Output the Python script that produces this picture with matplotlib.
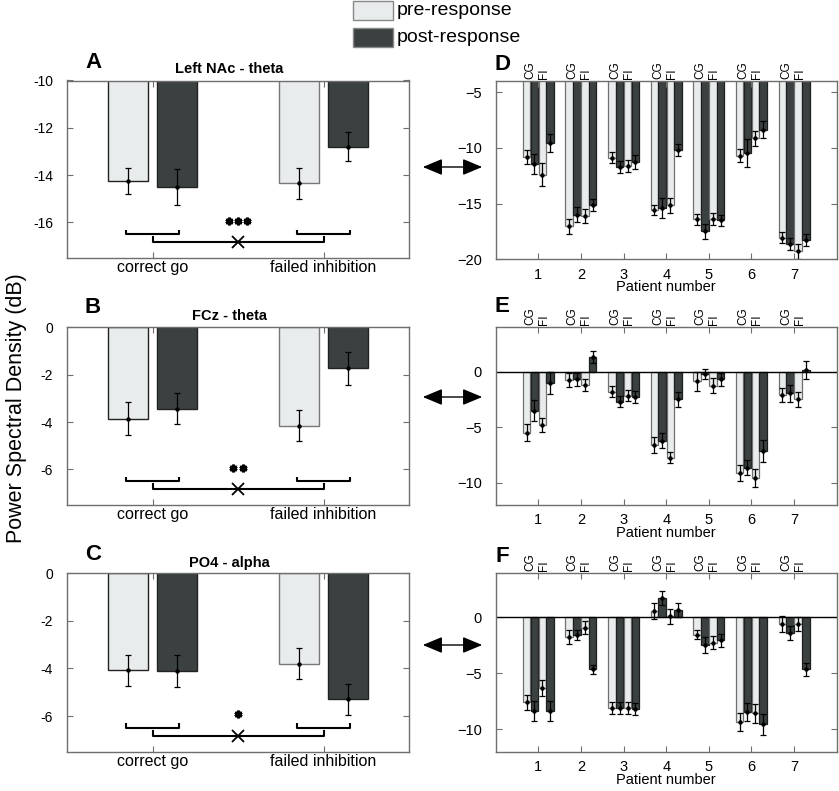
import matplotlib
matplotlib.use('Agg')
import matplotlib.pyplot as plt
import matplotlib.transforms as mtransforms
import numpy as np
from matplotlib.patches import Rectangle, FancyArrowPatch

plt.rcParams['font.family'] = ['Liberation Sans', 'DejaVu Sans']

# ---------------- data: group panels A-C ----------------
group_labels = ['correct go', 'failed inhibition']
panel_titles = ['Left NAc - theta', 'FCz - theta', 'PO4 - alpha']
legend_labels = ['pre-response', 'post-response']

A_pre = [-14.25, -14.35]
A_pre_err = [0.55, 0.65]
A_post = [-14.5, -12.8]
A_post_err = [0.75, 0.62]

B_pre = [-3.85, -4.15]
B_pre_err = [0.7, 0.65]
B_post = [-3.43, -1.73]
B_post_err = [0.65, 0.7]

C_pre = [-4.08, -3.8]
C_pre_err = [0.66, 0.65]
C_post = [-4.12, -5.3]
C_post_err = [0.67, 0.65]

sig_stars = ['***', '**', '*']

# ---------------- data: per-patient panels D-F ----------------
patients = [1, 2, 3, 4, 5, 6, 7]
cond_labels = ['CG', 'FI']

D_cg_pre = [-10.85, -17.05, -10.9, -15.56, -16.42, -10.7, -18.06]
D_cg_pre_err = [0.63, 0.64, 0.5, 0.45, 0.52, 0.6, 0.52]
D_cg_post = [-11.44, -16.0, -11.74, -15.38, -17.5, -10.46, -18.6]
D_cg_post_err = [0.9, 0.67, 0.52, 0.9, 0.67, 1.3, 0.55]
D_fi_pre = [-12.4, -16.12, -11.65, -15.17, -16.36, -9.15, -19.29]
D_fi_pre_err = [1.0, 0.6, 0.52, 0.67, 0.55, 0.7, 0.67]
D_fi_post = [-9.56, -15.1, -11.26, -10.19, -16.5, -8.37, -18.24]
D_fi_post_err = [0.8, 0.55, 0.64, 0.5, 0.48, 0.75, 0.55]

E_cg_pre = [-5.5, -0.75, -1.8, -6.6, -0.87, -9.1, -2.1]
E_cg_pre_err = [0.78, 0.67, 0.52, 0.75, 0.87, 0.72, 0.63]
E_cg_post = [-3.5, -0.7, -2.7, -6.2, -0.24, -8.65, -1.95]
E_cg_post_err = [0.95, 0.55, 0.5, 0.7, 0.45, 0.67, 0.75]
E_fi_pre = [-4.8, -1.2, -2.16, -7.75, -1.26, -9.55, -2.5]
E_fi_pre_err = [0.6, 0.53, 0.52, 0.5, 0.67, 0.82, 0.67]
E_fi_post = [-1.05, 1.35, -2.3, -2.5, -0.7, -7.15, 0.15]
E_fi_post_err = [1.0, 0.55, 0.52, 0.67, 0.57, 0.97, 0.78]

F_cg_pre = [-7.57, -1.74, -8.1, 0.55, -1.56, -9.37, -0.6]
F_cg_pre_err = [0.67, 0.6, 0.5, 0.7, 0.4, 0.82, 0.72]
F_cg_post = [-8.4, -1.6, -8.1, 1.75, -2.5, -8.47, -1.41]
F_cg_post_err = [0.9, 0.45, 0.5, 0.62, 0.72, 0.8, 0.65]
F_fi_pre = [-6.3, -0.9, -8.1, 0.1, -2.25, -8.56, -0.6]
F_fi_pre_err = [0.75, 0.54, 0.5, 0.67, 0.6, 0.84, 0.63]
F_fi_post = [-8.35, -4.65, -8.2, 0.66, -2.04, -9.55, -4.65]
F_fi_post_err = [0.87, 0.42, 0.55, 0.65, 0.6, 0.93, 0.6]

# ---------------- styling ----------------
LIGHT = '#e9ecec'
DARK = '#3b4141'
SPINE = '#6e6e6e'

W, H = 839, 791
fig = plt.figure(figsize=(W / 100, H / 100), dpi=100)


def rect(l, t, r, b):
    return [l / W, 1 - b / H, (r - l) / W, (b - t) / H]


def ftext(x, y, s, **kw):
    fig.text(x / W, 1 - y / H, s, **kw)


def style_axes(ax, xpad, ypad, xsize, ysize):
    for sp in ax.spines.values():
        sp.set_color(SPINE)
        sp.set_linewidth(1.0)
    ax.tick_params(direction='in', top=True, right=True, length=4, width=0.8,
                   color=SPINE)
    ax.tick_params(axis='x', pad=xpad, labelsize=xsize)
    ax.tick_params(axis='y', pad=ypad, labelsize=ysize)


# ---------------- left panels ----------------
left_rects = [rect(67, 80.5, 409, 258), rect(67, 327.3, 409, 505), rect(67, 573.3, 409, 751.7)]
left_ylims = [(-17.5, -10), (-7.5, 0), (-7.5, 0)]
left_yticks = [[-16, -14, -12, -10], [-6, -4, -2, 0], [-6, -4, -2, 0]]
left_data = [(A_pre, A_pre_err, A_post, A_post_err),
             (B_pre, B_pre_err, B_post, B_post_err),
             (C_pre, C_pre_err, C_post, C_post_err)]
left_letters = ['A', 'B', 'C']
letter_y = [63, 308, 555]
title_y = [69, 316, 563]

for i in range(3):
    ax = fig.add_axes(left_rects[i])
    pre, pre_e, post, post_e = left_data[i]
    xg = np.arange(1, len(group_labels) + 1)
    off, bw = 0.144, 0.23
    ax.bar(xg - off, pre, bw, color=LIGHT, edgecolor=['#222222', '#777777'], linewidth=1.0)
    ax.bar(xg + off, post, bw, color=DARK, edgecolor='#222222', linewidth=1.0)
    ax.errorbar(xg - off, pre, yerr=pre_e, fmt='o', ms=2.2, color='k', lw=0.9, capsize=2, capthick=0.9)
    ax.errorbar(xg + off, post, yerr=post_e, fmt='o', ms=2.2, color='k', lw=0.9, capsize=2, capthick=0.9)
    ax.set_xlim(0.5, 2.5)
    ax.set_ylim(*left_ylims[i])
    ax.set_yticks(left_yticks[i])
    ax.set_yticklabels([f'{t:g}' for t in left_yticks[i]])
    ax.set_xticks(xg)
    ax.set_xticklabels(group_labels)
    style_axes(ax, 1.5, 10, 11.5, 10)
    # significance annotations
    ymin = left_ylims[i][0]
    yb_small, yb_big, ys, dh = ymin + 1.0, ymin + 0.68, ymin + 1.58, 0.2
    so = 0.155
    for g in xg:
        ax.plot([g - so, g - so, g + so, g + so], [yb_small + dh, yb_small, yb_small, yb_small + dh],
                color='k', lw=1.5, solid_capstyle='butt')
    ax.plot([1, 1, 2, 2], [yb_big + dh, yb_big, yb_big, yb_big + dh], color='k', lw=1.5)
    ax.plot(1.5, yb_big, marker='x', color='k', ms=8, mew=1.3)
    n = len(sig_stars[i])
    xs = 1.5 + 0.053 * (np.arange(n) - (n - 1) / 2)
    ax.plot(xs, [ys] * n, ls='none', marker=(6, 2, 0), ms=5.5, mew=2.0, color='k')
    ftext(93, letter_y[i], left_letters[i], fontsize=16, fontweight='bold', ha='center', va='center')
    ftext(229, title_y[i], panel_titles[i], fontsize=10.5, fontweight='bold', ha='center', va='center')

# ---------------- right panels ----------------
right_rects = [rect(495.7, 81, 836.7, 259.3), rect(495.7, 327.3, 836.7, 505), rect(495.7, 572.7, 836.7, 751.7)]
right_ylims = [(-20, -4), (-12, 4), (-12, 4)]
right_yticks = [[-20, -15, -10, -5], [-10, -5, 0], [-10, -5, 0]]
right_data = [
    [(D_cg_pre, D_cg_pre_err), (D_cg_post, D_cg_post_err), (D_fi_pre, D_fi_pre_err), (D_fi_post, D_fi_post_err)],
    [(E_cg_pre, E_cg_pre_err), (E_cg_post, E_cg_post_err), (E_fi_pre, E_fi_pre_err), (E_fi_post, E_fi_post_err)],
    [(F_cg_pre, F_cg_pre_err), (F_cg_post, F_cg_post_err), (F_fi_pre, F_fi_pre_err), (F_fi_post, F_fi_post_err)],
]
right_letters = ['D', 'E', 'F']
rletter_y = [65, 307, 556]
offs = [-0.275, -0.095, 0.095, 0.275]
face = [LIGHT, DARK, LIGHT, DARK]
edge = ['#707070', '#1e1e1e', '#707070', '#1e1e1e']
px = np.array(patients, dtype=float)

for i in range(3):
    ax = fig.add_axes(right_rects[i])
    for k in range(4):
        vals, errs = right_data[i][k]
        ax.bar(px + offs[k], vals, 0.175, color=face[k], edgecolor=edge[k], linewidth=0.9)
        ax.errorbar(px + offs[k], vals, yerr=errs, fmt='o', ms=2.2, color='k', lw=0.9,
                    capsize=2.2, capthick=0.9)
    if i > 0:
        ax.axhline(0, color='k', lw=1.0)
    ax.set_xlim(0, 8)
    ax.set_ylim(*right_ylims[i])
    ax.set_yticks(right_yticks[i])
    ax.set_xticks(px)
    ax.set_xticklabels([str(p) for p in patients])
    style_axes(ax, 6, 10, 10.5, 10.5)
    ax.set_xlabel('Patient number', fontsize=10.5, labelpad=-1)
    trans = mtransforms.blended_transform_factory(ax.transData, ax.transAxes)
    for p in patients:
        ax.text(p - 0.19, 1.012, cond_labels[0], transform=trans, rotation=90,
                ha='center', va='bottom', fontsize=8.5, linespacing=1.0)
        ax.text(p + 0.13, 1.012, cond_labels[1], transform=trans, rotation=90,
                ha='center', va='bottom', fontsize=8.5, linespacing=1.0)
    ftext(502, rletter_y[i], right_letters[i], fontsize=16, fontweight='bold', ha='center', va='center')

# ---------------- shared y label ----------------
ftext(17, 408, 'Power Spectral Density (dB)', fontsize=15.5, rotation=90, ha='center', va='center')

# ---------------- legend ----------------
for j, (lab, col) in enumerate(zip(legend_labels, [LIGHT, DARK])):
    top = 1 + 27 * j
    fig.add_artist(Rectangle((352.7 / W, 1 - (top + 19) / H), 40.6 / W, 19 / H,
                             transform=fig.transFigure, facecolor=col,
                             edgecolor='#888888', linewidth=1.0))
    ftext(397, top + 9.5, lab, fontsize=14, ha='left', va='center')

# ---------------- double arrows ----------------
for y in [167, 397, 645]:
    fig.add_artist(FancyArrowPatch((420 / W, 1 - y / H), (485 / W, 1 - y / H),
                                   transform=fig.transFigure,
                                   arrowstyle='<|-|>,head_length=0.6,head_width=0.25',
                                   mutation_scale=20, color='k', lw=1.0))

fig.savefig('out.png', dpi=100)
